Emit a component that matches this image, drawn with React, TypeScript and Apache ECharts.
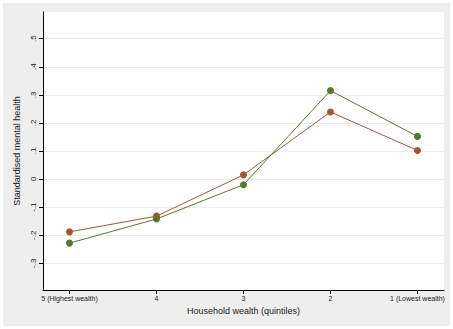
import React, { useEffect, useRef } from "react";
import * as echarts from "echarts";

const categories = ["5 (Highest wealth)", "4", "3", "2", "1 (Lowest wealth)"];
const seriesOrange = [-0.188, -0.132, 0.015, 0.239, 0.102];
const seriesGreen = [-0.228, -0.142, -0.02, 0.315, 0.152];
const yTicks = [-0.3, -0.2, -0.1, 0, 0.1, 0.2, 0.3, 0.4, 0.5];

const fmtY = (v: number) => {
  const r = Math.round(v * 10) / 10;
  if (r === 0) return "0";
  const s = Math.abs(r).toString().replace(/^0/, "");
  return (r < 0 ? "-" : "") + s;
};

export default function App() {
  const ref = useRef<HTMLDivElement>(null);
  useEffect(() => {
    document.body.style.margin = "0";
    const chart = echarts.init(ref.current!, null, { renderer: "svg" });
    const font = "Liberation Sans, Arial, sans-serif";
    const idx = categories.map((_, i) => i);
    chart.setOption({
      animation: false,
      backgroundColor: "#ffffff",
      graphic: [
        {
          type: "rect",
          shape: { x: 3, y: 3, width: 447, height: 323 },
          style: { fill: "#eeeeee" },
          z: -10,
          silent: true,
        },
      ],
      grid: {
        left: 43,
        right: 9,
        top: 12,
        bottom: 39,
        show: true,
        backgroundColor: "#ffffff",
        borderWidth: 0,
      },
      xAxis: {
        type: "value",
        min: -0.305,
        max: 4.305,
        name: "Household wealth (quintiles)",
        nameLocation: "middle",
        nameGap: 14,
        nameTextStyle: { fontFamily: font, fontSize: 9, color: "#222" },
        axisLine: { show: true, onZero: false, lineStyle: { color: "#000", width: 1 } },
        axisTick: { show: true, length: 4, customValues: idx, lineStyle: { color: "#000" } },
        axisLabel: {
          customValues: idx,
          formatter: (v: number) => categories[Math.round(v)] ?? "",
          fontFamily: font,
          fontSize: 7,
          color: "#222",
          margin: 5,
        },
        splitLine: { show: false },
      },
      yAxis: {
        type: "value",
        min: -0.395,
        max: 0.595,
        name: "Standardised mental health",
        nameLocation: "middle",
        nameGap: 19,
        nameRotate: 90,
        nameTextStyle: { fontFamily: font, fontSize: 9, color: "#222" },
        axisLine: { show: true, onZero: false, lineStyle: { color: "#000", width: 1 } },
        axisTick: { show: true, length: 4, customValues: yTicks, lineStyle: { color: "#000" } },
        axisLabel: {
          customValues: yTicks,
          formatter: (v: number) => fmtY(v),
          rotate: 90,
          fontFamily: font,
          fontSize: 8,
          color: "#222",
          margin: 6,
        },
        splitLine: { show: true, lineStyle: { color: "#e6eef0", width: 1 } },
      },
      series: [
        {
          type: "line",
          data: idx.map((i) => [i, seriesOrange[i]]),
          color: "#a9532f",
          lineStyle: { width: 1, color: "#a9532f" },
          symbol: "circle",
          symbolSize: 7,
          itemStyle: { color: "#a9532f" },
        },
        {
          type: "line",
          data: idx.map((i) => [i, seriesGreen[i]]),
          color: "#557a2c",
          lineStyle: { width: 1, color: "#557a2c" },
          symbol: "circle",
          symbolSize: 7,
          itemStyle: { color: "#557a2c" },
        },
      ],
    });
    return () => chart.dispose();
  }, []);
  return <div ref={ref} style={{ width: 453, height: 329 }} />;
}
